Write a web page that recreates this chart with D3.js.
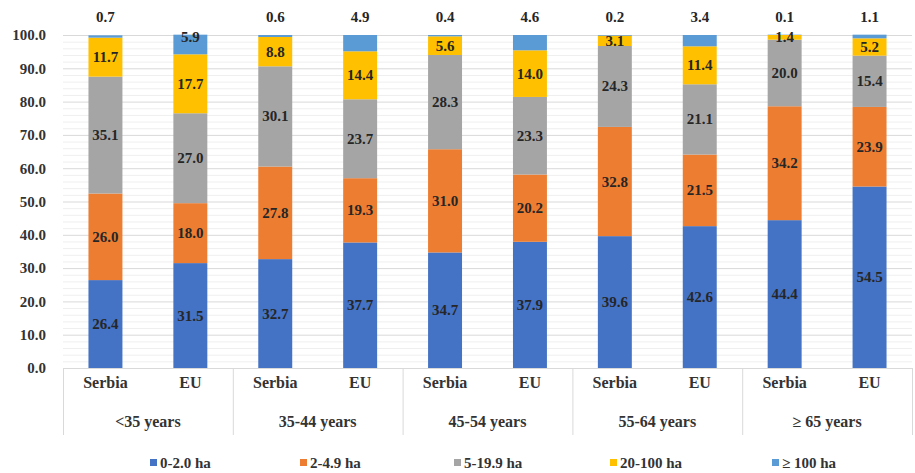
<!DOCTYPE html>
<html>
<head>
<meta charset="utf-8">
<script src="https://cdn.jsdelivr.net/npm/d3@7"></script>
<style>
  body { margin: 0; background: #fff; }
  svg text { font-family: "Liberation Serif", "DejaVu Serif", serif !important; font-weight: bold; }
</style>
</head>
<body>
<svg id="chart"></svg>
<script>
let groups = ['<35 years', '35-44 years', '45-54 years', '55-64 years', '\u2265 65 years']
let countries = ['Serbia', 'EU']
let seriesNames = ['0-2.0 ha', '2-4.9 ha', '5-19.9 ha', '20-100 ha', '\u2265 100 ha']
let seriesColors = ['#4472c4', '#ed7d31', '#a5a5a5', '#ffc000', '#5b9bd5']

// one row per bar, in order Serbia, EU for each age group
let ha0_2 = [26.4, 31.5, 32.7, 37.7, 34.7, 37.9, 39.6, 42.6, 44.4, 54.5]
let ha2_5 = [26.0, 18.0, 27.8, 19.3, 31.0, 20.2, 32.8, 21.5, 34.2, 23.9]
let ha5_20 = [35.1, 27.0, 30.1, 23.7, 28.3, 23.3, 24.3, 21.1, 20.0, 15.4]
let ha20_100 = [11.7, 17.7, 8.8, 14.4, 5.6, 14.0, 3.1, 11.4, 1.4, 5.2]
let ha100 = [0.7, 5.9, 0.6, 4.9, 0.4, 4.6, 0.2, 3.4, 0.1, 1.1]
let yTicks = [0, 10, 20, 30, 40, 50, 60, 70, 80, 90, 100]

let width = 915, height = 473
let svg = d3.select('#chart').attr('width', width).attr('height', height)
    .attr('font-family', '"Liberation Serif", serif')

let plotLeft = 63, plotRight = 912, plotTop = 35, plotBottom = 368

let bars = []
groups.forEach((g, gi) => {
    countries.forEach((c, ci) => {
        let i = gi * 2 + ci
        bars.push({key: g + '|' + c, group: g, country: c,
            s0: ha0_2[i], s1: ha2_5[i], s2: ha5_20[i], s3: ha20_100[i], s4: ha100[i]})
    })
})
let keys = ['s0', 's1', 's2', 's3', 's4']

let x = d3.scaleBand().domain(bars.map(d => d.key)).range([plotLeft, plotRight]).paddingInner(0.6).paddingOuter(0.3)
let xGroup = d3.scaleBand().domain(groups).range([plotLeft, plotRight])
let y = d3.scaleLinear().domain([0, 100]).range([plotBottom, plotTop])

// gridlines: minor every 2, major every 10
let minor = d3.range(2, 101, 2).filter(v => v % 10 !== 0)
svg.append('g').selectAll('line').data(minor).enter().append('line')
    .attr('x1', plotLeft).attr('x2', plotRight)
    .attr('y1', d => y(d) + 0.5).attr('y2', d => y(d) + 0.5)
    .attr('stroke', '#efefef').attr('stroke-width', 1)
svg.append('g').selectAll('line').data(yTicks.slice(1)).enter().append('line')
    .attr('x1', plotLeft).attr('x2', plotRight)
    .attr('y1', d => y(d) + 0.5).attr('y2', d => y(d) + 0.5)
    .attr('stroke', '#d9d9d9').attr('stroke-width', 1)

// y axis labels
let yAxis = svg.append('g').attr('transform', 'translate(' + (plotLeft - 14) + ',0)')
    .call(d3.axisLeft(y).tickValues(yTicks).tickFormat(d3.format('.1f')).tickSize(0))
yAxis.attr('font-family', null).attr('font-size', null)
yAxis.select('.domain').remove()
yAxis.selectAll('text').attr('font-size', '15px').attr('fill', '#333')

let stack = d3.stack().keys(keys)(bars)

let layer = svg.selectAll('.layer').data(stack).enter().append('g')
    .attr('class', 'layer')
    .attr('fill', (d, i) => seriesColors[i])

layer.selectAll('rect').data(d => d).enter().append('rect')
    .attr('x', d => x(d.data.key))
    .attr('width', x.bandwidth())
    .attr('y', d => y(d[1]))
    .attr('height', d => y(d[0]) - y(d[1]))

// value labels
stack.forEach((s, si) => {
    svg.append('g').selectAll('text').data(s).enter().append('text')
        .attr('x', d => x(d.data.key) + x.bandwidth() / 2)
        .attr('y', d => {
            let v = d[1] - d[0]
            if (si === 4 && v < 5.5) return y(100) - 13
            if (si === 4) return y(d[1]) + 7
            return y((d[0] + d[1]) / 2) + 5
        })
        .attr('text-anchor', 'middle')
        .attr('font-size', '15px')
        .attr('fill', '#262626')
        .text(d => d3.format('.1f')(d.data[keys[si]]))
})

// category axis
svg.append('line').attr('x1', plotLeft).attr('x2', plotRight).attr('y1', plotBottom + 0.5).attr('y2', plotBottom + 0.5)
    .attr('stroke', '#d9d9d9')
let seps = groups.map(g => xGroup(g)).concat([plotRight])
svg.append('g').selectAll('line').data(seps).enter().append('line')
    .attr('x1', d => d + 0.5).attr('x2', d => d + 0.5)
    .attr('y1', plotBottom).attr('y2', plotBottom + 67)
    .attr('stroke', '#d9d9d9')

svg.append('g').selectAll('text').data(bars).enter().append('text')
    .attr('x', d => x(d.key) + x.bandwidth() / 2)
    .attr('y', plotBottom + 20)
    .attr('text-anchor', 'middle')
    .attr('font-size', '16px')
    .attr('fill', '#333')
    .text(d => d.country)

svg.append('g').selectAll('text').data(groups).enter().append('text')
    .attr('x', d => xGroup(d) + xGroup.bandwidth() / 2)
    .attr('y', plotBottom + 59)
    .attr('text-anchor', 'middle')
    .attr('font-size', '16px')
    .attr('fill', '#333')
    .text(d => d)

// legend
let legendX = [150, 300, 454, 610, 772]
let legend = svg.append('g').selectAll('g').data(seriesNames).enter().append('g')
    .attr('transform', (d, i) => 'translate(' + legendX[i] + ',' + 463 + ')')
legend.append('rect').attr('x', 0).attr('y', -4).attr('width', 7).attr('height', 7)
    .attr('fill', (d, i) => seriesColors[i])
legend.append('text').attr('x', 10).attr('y', 5)
    .attr('font-size', '15px').attr('fill', '#333')
    .text(d => d)
</script>
</body>
</html>
